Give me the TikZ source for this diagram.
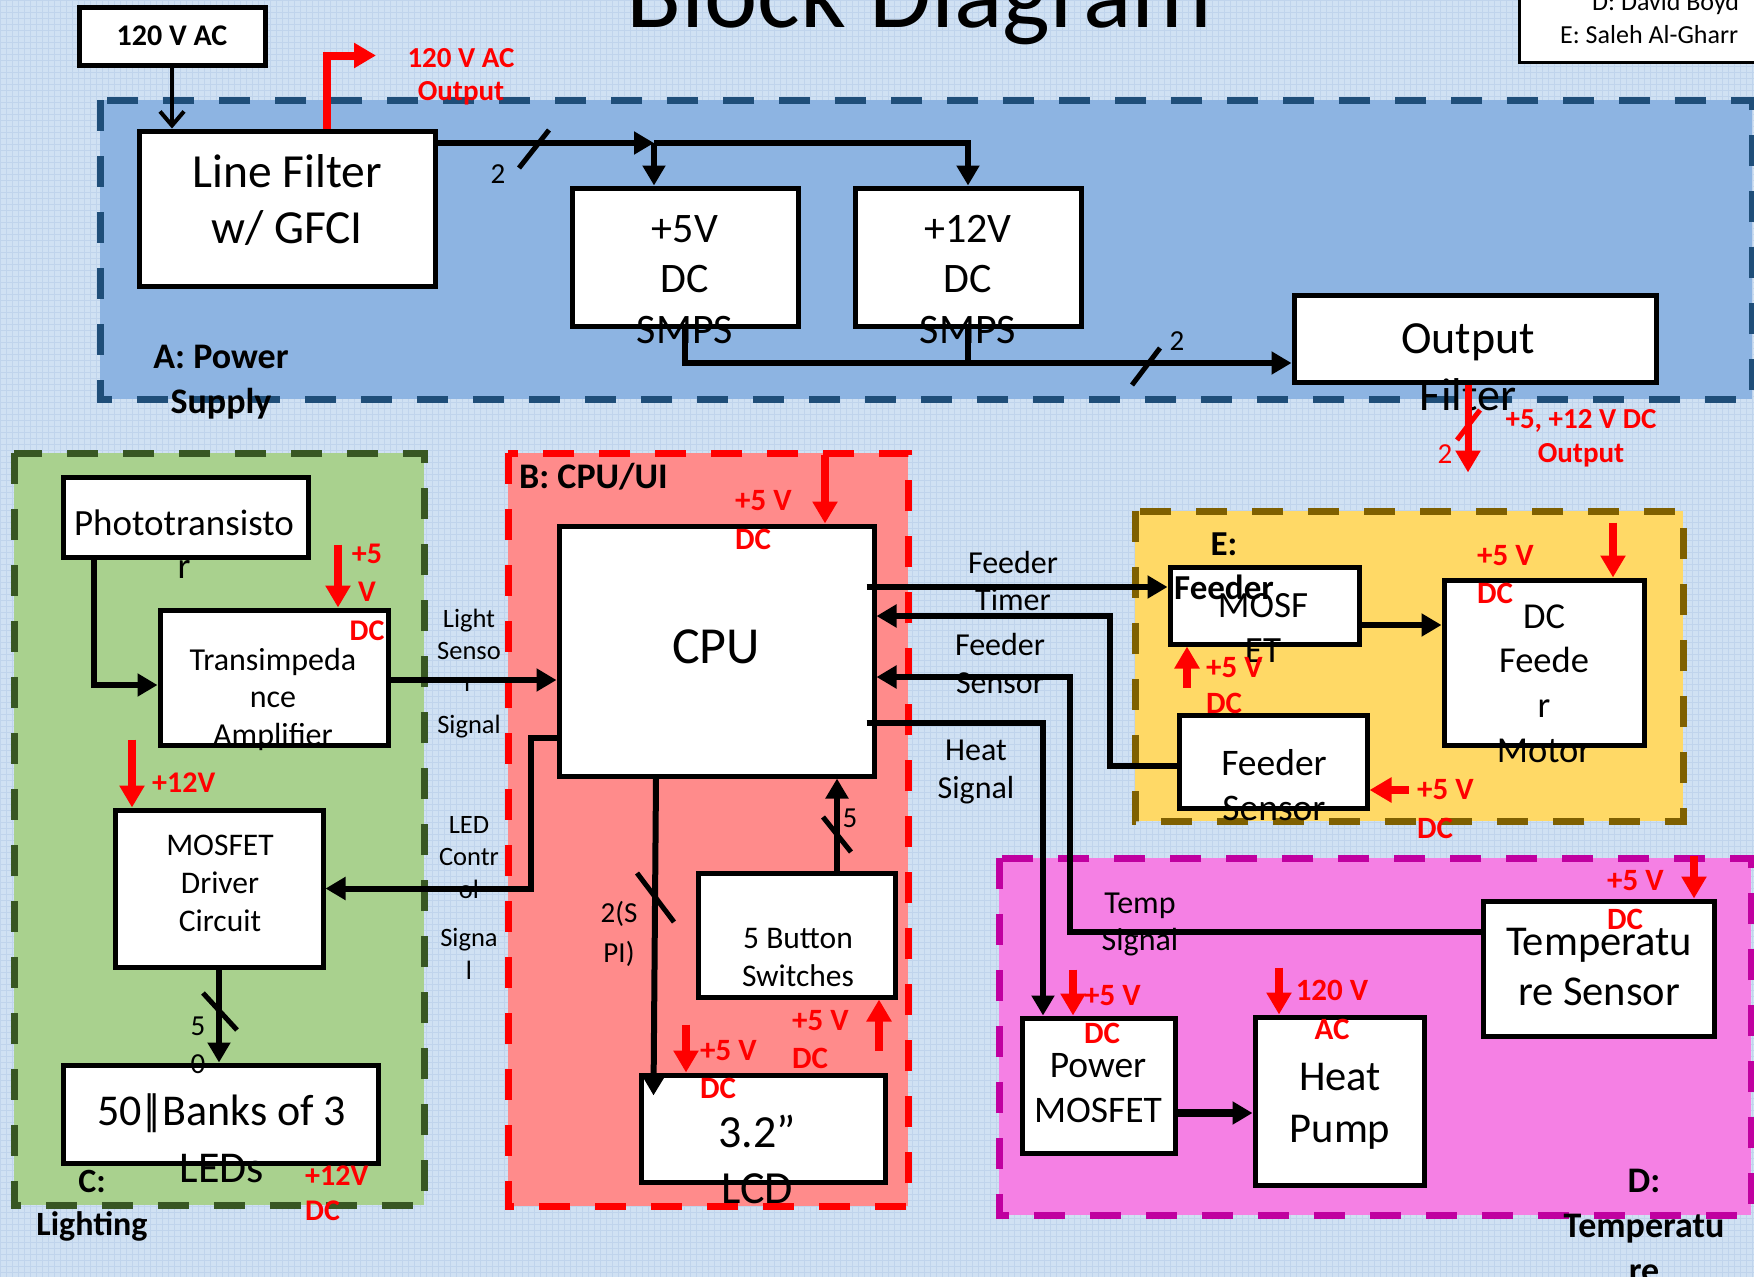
\documentclass[tikz,border=0pt]{standalone}
\usepackage{fontspec}
\setmainfont{Carlito}
\usetikzlibrary{arrows.meta,calc}
\definecolor{bgblue}{RGB}{208,225,243}
\definecolor{gridblue}{RGB}{192,212,236}
\definecolor{regA}{RGB}{141,180,226}
\definecolor{regAb}{RGB}{31,78,121}
\definecolor{regB}{RGB}{255,139,139}
\definecolor{regBb}{RGB}{255,0,0}
\definecolor{regC}{RGB}{169,209,142}
\definecolor{regCb}{RGB}{56,87,35}
\definecolor{regD}{RGB}{245,128,228}
\definecolor{regDb}{RGB}{192,0,160}
\definecolor{regE}{RGB}{255,217,102}
\definecolor{regEb}{RGB}{127,96,0}
\definecolor{pwr}{RGB}{255,0,0}
\newcommand{\fs}[2]{\fontsize{#1pt}{#2pt}\selectfont}
\newcommand{\mlc}[1]{\begin{tabular}[t]{@{}c@{}}#1\end{tabular}}
\newcommand{\mll}[1]{\begin{tabular}[t]{@{}l@{}}#1\end{tabular}}
\begin{document}
\begin{tikzpicture}[x=1pt,y=-1pt,
  box/.style={draw=black,fill=white,line width=5pt,inner sep=0pt},
  t/.style={inner sep=0pt,anchor=base},
  tl/.style={inner sep=0pt,anchor=base west},
  pwt/.style={text=pwr,font=\bfseries},
  conn/.style={draw=black,line width=6pt},
  tip/.style={-{Triangle[length=20pt,width=22pt]}},
  pw/.style={draw=pwr,line width=8pt,-{Triangle[length=22pt,width=24pt]}},
  slash/.style={draw=black,line width=5pt},
  region/.style={line width=7pt,dash pattern=on 31pt off 25pt},
]
\useasboundingbox (0,0) rectangle (1754,1277);
% background
\fill[bgblue] (0,0) rectangle (1754,1277);
\draw[gridblue,line width=0.5pt,step=6pt] (0,1277) grid (1754,0);

% regions
\fill[regA] (100,100) rectangle (1752,399);
\draw[region,regAb] (100,100) rectangle (1752,399);
\fill[regC] (14,453) rectangle (424,1205);
\draw[region,regCb] (14,453) rectangle (424,1205);
\fill[regB] (508,453) rectangle (908,1206);
\draw[region,regBb] (508,453) rectangle (908,1206);
\fill[regE] (1135,511) rectangle (1683,821);
\draw[region,regEb] (1135,511) rectangle (1683,821);
\fill[regD] (999,858) rectangle (1751,1215);
\draw[region,regDb] (999,858) rectangle (1751,1215);

% title and names
\node[tl] (title) at (626,27) {\fs{101}{100}Block Diagram};
\node[draw=black,fill=white,line width=3pt,minimum width=300pt,minimum height=100pt,inner sep=0pt,anchor=south west] (names) at (1518,64) {};
\node[tl] (nm-d) at (1592,10) {\fs{26}{30}D: David Boyd};
\node[tl] (nm-e) at (1560,43) {\fs{26}{30}E: Saleh Al-Gharr};

% boxes
\node[box,minimum width=186pt,minimum height=58pt] (acin) at (172,36) {};
\node[box,minimum width=296pt,minimum height=155pt] (lf) at (287,208.5) {};
\node[box,minimum width=226pt,minimum height=138pt] (smps5) at (685,257) {};
\node[box,minimum width=226pt,minimum height=138pt] (smps12) at (968,257) {};
\node[box,minimum width=362pt,minimum height=87pt] (outf) at (1475,338.5) {};
\node[box,minimum width=245pt,minimum height=80pt] (photo) at (185.5,517) {};
\node[box,minimum width=228pt,minimum height=135pt] (tia) at (274,677.5) {};
\node[box,minimum width=208pt,minimum height=157pt] (drv) at (219,888.5) {};
\node[box,minimum width=315pt,minimum height=98pt] (leds) at (220.5,1114) {};
\node[box,minimum width=315pt,minimum height=250pt] (cpu) at (716.5,651) {};
\node[box,minimum width=197pt,minimum height=124pt] (btn) at (796.5,935) {};
\node[box,minimum width=244pt,minimum height=107pt] (lcd) at (763,1128.5) {};
\node[box,minimum width=189pt,minimum height=77pt] (fmos) at (1264.5,605.5) {};
\node[box,minimum width=200pt,minimum height=165pt] (motor) at (1544,662.5) {};
\node[box,minimum width=188pt,minimum height=93pt] (fsens) at (1273,761.5) {};
\node[box,minimum width=231pt,minimum height=135pt] (tsens) at (1598.5,968.5) {};
\node[box,minimum width=153pt,minimum height=135pt] (pmos) at (1098.5,1085.5) {};
\node[box,minimum width=169pt,minimum height=168pt] (hpump) at (1339.5,1101) {};

% box texts
\node[t] (acin-t) at (172,45) {\bfseries\fs{30}{30}120 V AC};
\node[t] (lf-t) at (287,187) {\fs{47.5}{56}\mlc{Line Filter\\w/ GFCI}};
\node[t] (s5-t) at (685,242) {\fs{42}{50.5}\mlc{+5V\\DC\\SMPS}};
\node[t] (s12-t) at (968,242) {\fs{42}{50.5}\mlc{+12V\\DC\\SMPS}};
\node[t] (of-t) at (1468,353) {\fs{46}{57}\mlc{Output\\Filter}};
\node[t] (ph-t) at (184,535) {\fs{37}{43}\mlc{Phototransisto\\r}};
\node[t] (tia-t) at (273,670) {\fs{32}{37.5}\mlc{Transimpeda\\nce\\Amplifier}};
\node[t] (drv-t) at (220,855) {\fs{31.5}{38}\mlc{MOSFET\\Driver\\Circuit}};
\node[t] (led-t) at (222,1125) {\fs{44}{57}\mlc{50\kern-.06em|\kern-.34em|\kern-.06em Banks of 3\\LEDs}};
\node[t] (cpu-t) at (716,663) {\fs{52}{50}CPU};
\node[t] (btn-t) at (798,948) {\fs{31.5}{38}\mlc{5 Button\\Switches}};
\node[t] (lcd-t) at (757,1147) {\fs{46}{56}\mlc{3.2”\\LCD}};
\node[t] (fm-t) at (1263,617) {\fs{37}{45}\mlc{MOSF\\ET}};
\node[t] (mot-t) at (1544,628) {\fs{36.5}{44.7}\mlc{DC\\Feede\\r\\Motor}};
\node[t] (fs-t) at (1274,775) {\fs{37.5}{45}\mlc{Feeder\\Sensor}};
\node[t] (ts-t) at (1599,955) {\fs{42.5}{50}\mlc{Temperatu\\re Sensor}};
\node[t] (pm-t) at (1098,1077) {\fs{37.5}{45}\mlc{Power\\MOSFET}};
\node[t] (hp-t) at (1340,1090) {\fs{42.5}{52}\mlc{Heat\\Pump}};

% signal labels
\node[t] (ls-t) at (469,627) {\fs{26.5}{32}\mlc{Light\\Senso\\r\\[10pt]Signal}};
\node[t] (lc-t) at (469,833) {\fs{26.5}{32.5}\mlc{LED\\Contr\\ol\\[16pt]Signa\\l}};
\node[t] (ftm-t) at (1013,573) {\fs{32}{37}\mlc{Feeder\\Timer}};
\node[t] (fse-t) at (1000,655) {\fs{32}{38}\mlc{Feeder\\Sensor}};
\node[t] (hs-t) at (976,760) {\fs{32}{38}\mlc{Heat\\Signal}};
\node[t] (tsg-t) at (1140,913) {\fs{32}{37}\mlc{Temp\\Signal}};
\node[t] (spi-t) at (619,922) {\fs{29}{40}\mlc{2(S\\PI)}};
\node[t] (b50-t) at (198,1035) {\fs{29}{38}\mlc{5\\0}};
\node[t] (b5-t) at (850,827) {\fs{29}{30}5};
\node[t] (b2a-t) at (498,183) {\fs{29}{30}2};
\node[t] (b2b-t) at (1177,350) {\fs{29}{30}2};

% region labels
\node[t] (A-t) at (221,368) {\bfseries\fs{36}{45}\mlc{A: Power\\Supply}};
\node[tl] (B-t) at (519,488) {\bfseries\fs{36}{40}B: CPU/UI};
\node[t] (C-t) at (92,1192) {\bfseries\fs{34}{43}\mlc{C:\\Lighting}};
\node[t] (E-t) at (1224,555) {\bfseries\fs{35}{44}\mlc{E:\\Feeder}};
\node[t] (D-t) at (1644,1192) {\bfseries\fs{36}{45}\mlc{D:\\Temperatu\\re}};

% red power labels
\node[t,pwt] (p1) at (461,67) {\fs{29}{33}\mlc{120 V AC\\Output}};
\node[t,pwt] (p2) at (1581,428) {\fs{29}{34}\mlc{+5, +12 V DC\\Output}};
\node[t,pwt] (p3) at (367,563) {\fs{30}{38.5}\mlc{+5\\V\\DC}};
\node[tl,pwt] (p4) at (152,792) {\fs{30}{30}+12V};
\node[tl,pwt] (p5) at (305,1185) {\fs{30}{35}\mll{+12V\\DC}};
\node[tl,pwt] (p6) at (735,510) {\fs{31}{39}\mll{+5 V\\DC}};
\node[tl,pwt] (p7) at (792,1030) {\fs{31}{38}\mll{+5 V\\DC}};
\node[tl,pwt] (p8) at (700,1060) {\fs{31}{38}\mll{+5 V\\DC}};
\node[tl,pwt] (p9) at (1477,565) {\fs{31}{38}\mll{+5 V\\DC}};
\node[tl,pwt] (p10) at (1206,677) {\fs{31}{36}\mll{+5 V\\DC}};
\node[tl,pwt] (p11) at (1417,799) {\fs{31}{39}\mll{+5 V\\DC}};
\node[tl,pwt] (p12) at (1607,890) {\fs{31}{39}\mll{+5 V\\DC}};
\node[tl,pwt] (p13) at (1084,1005) {\fs{31}{38}\mll{+5 V\\DC}};
\node[t,pwt] (p14) at (1332,1000) {\fs{31}{39}\mlc{120 V\\AC}};
\node[t,text=pwr] (p15) at (1445,463) {\fs{29}{30}2};

% black connectors
\draw[line width=4pt,-{Straight Barb[length=14pt,width=24pt]}] (acin.south) -- (acin.south |- lf.north);
\coordinate (lfo) at ($(lf.east)+(0,-65.5)$);
\coordinate (j1) at ($(lfo -| smps5.north)+(-31,0)$);
\draw[conn,tip] (lfo) -- (j1);
\draw[conn,tip] (j1) -- (j1 |- smps5.north);
\draw[conn,tip] (j1) -| (smps12.north);
\coordinate (ofi) at ($(outf.west)+(0,24.5)$);
\draw[conn,tip] (smps5.south) |- (ofi);
\draw[conn] (smps12.south) -- (smps12.south |- ofi);
\draw[conn,tip] ($(photo.south)+(-91.5,0)$) |- ($(tia.west)+(0,7.5)$);
\coordinate (lso) at ($(tia.east)+(0,2.5)$);
\draw[conn,tip] (lso) -- (lso -| cpu.west);
\draw[conn,tip] ($(cpu.west)+(0,87)$) -- ++(-26,0) |- (drv.east);
\draw[conn,tip] (drv.south) -- (drv.south |- leds.north);
\coordinate (fti) at ($(fmos.west)+(0,-18.5)$);
\draw[conn,tip] ($(cpu.east |- fti)+(-10,0)$) -- (fti);
\draw[conn,tip] ($(fsens.west)+(0,4.5)$) -- ++(-67,0) |- ($(cpu.east)+(0,-35)$);
\draw[conn,tip] ($(tsens.west)+(0,-36.5)$) -- ++(-411,0) |- ($(cpu.east)+(0,26)$);
\draw[conn,tip] ($(cpu.east)+(-10,72)$) -| ($(pmos.north)+(-55.5,0)$);
\draw[conn,tip] ($(cpu.south)+(-60.5,0)$) -- ($(lcd.north west)+(15,23)$);
\draw[conn,tip] ($(btn.north)+(40.5,0)$) -- ($(cpu.south)+(120.5,0)$);
\coordinate (fmo) at ($(fmos.east)+(0,19.5)$);
\draw[conn,tip] (fmo) -- (fmo -| motor.west);
\coordinate (pmo) at ($(pmos.east)+(0,27.5)$);
\draw[conn,line width=8pt,tip] (pmo) -- (pmo -| hpump.west);

% bus slashes
\draw[slash] (519,168) -- (549,130);
\draw[slash] (1132,385) -- (1160,348);
\draw[slash] (203,993) -- (237,1030);
\draw[slash] (637,873) -- (674,922);
\draw[slash] (823,817) -- (851,852);
\draw[slash,draw=pwr] (1457,440) -- (1480,410);

% red power arrows
\draw[pw] ([xshift=40pt]lf.north) -- ++(0,-73) -- ++(49,0);
\draw[pw,line width=7pt] ($(outf.south)+(-7,0)$) -- ++(0,88);
\draw[pw] ($(tia.north)+(64,-63)$) -- ($(tia.north)+(64,0)$);
\draw[pw] ($(drv.north)+(-87,-68)$) -- ($(drv.north)+(-87,0)$);
\draw[pw] ($(cpu.north)+(108.5,-69)$) -- ($(cpu.north)+(108.5,0)$);
\draw[pw] ($(lcd.north)+(-77,-48)$) -- ($(lcd.north)+(-77,0)$);
\draw[pw] ($(btn.south)+(82.5,51)$) -- ($(btn.south)+(82.5,0)$);
\draw[pw] ($(motor.north)+(69,-55)$) -- ($(motor.north)+(69,0)$);
\draw[pw] ($(fmos.south)+(-77.5,41)$) -- ($(fmos.south)+(-77.5,0)$);
\draw[pw] ($(fsens.east)+(39,28.5)$) -- ($(fsens.east)+(0,28.5)$);
\draw[pw] ($(tsens.north)+(95.5,-43)$) -- ($(tsens.north)+(95.5,0)$);
\draw[pw] ($(pmos.north)+(-25.5,-46)$) -- ($(pmos.north)+(-25.5,0)$);
\draw[pw] ($(hpump.north)+(-60.5,-47)$) -- ($(hpump.north)+(-60.5,0)$);
\end{tikzpicture}
\end{document}
